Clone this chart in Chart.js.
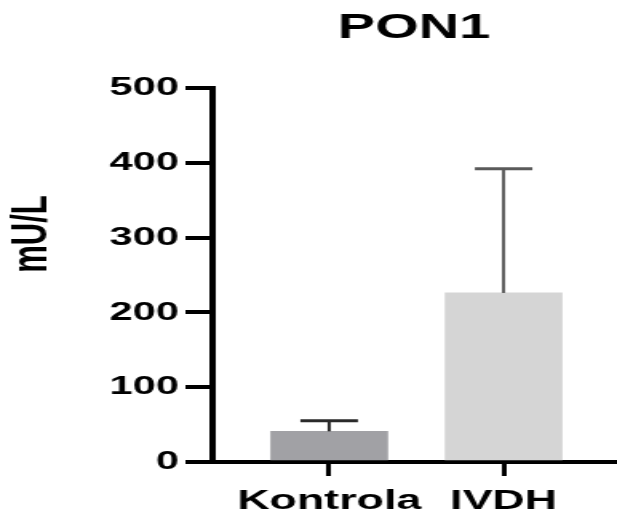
<!DOCTYPE html>
<html>
<head>
<meta charset="utf-8">
<script src="https://cdn.jsdelivr.net/npm/chart.js@4"></script>
<style>
    html, body { margin: 0; padding: 0; background: #fff; overflow: hidden; }
    #wrap {
        width: 386px;
        height: 517px;
        transform: scaleX(1.5984);
        transform-origin: 0 0;
    }
</style>
</head>
<body>
<div id="wrap"><canvas id="chartPon"></canvas></div>
<script>
// =====================================
// DATA
// =====================================

const categories = ["Kontrola", "IVDH"];
const means = [41, 226];
const sdUpper = [14, 166];
const barColors = ["#a1a1a5", "#d5d5d5"];
const errColors = ["#2a2a2a", "#5a5a5a"];
const yTicks = [0, 100, 200, 300, 400, 500];

const FONT = "'Liberation Sans', Arial, sans-serif";

// =====================================
// PLUGINS
// =====================================

const errorBars = {
    id: "errorBars",
    afterDatasetsDraw(chart) {
        const ctx = chart.ctx;
        const y = chart.scales.y;
        const meta = chart.getDatasetMeta(0);

        meta.data.forEach((bar, i) => {
            const top = y.getPixelForValue(means[i] + sdUpper[i]);
            ctx.save();
            ctx.strokeStyle = errColors[i];
            ctx.lineWidth = 2;
            ctx.beginPath();
            ctx.moveTo(bar.x, bar.y);
            ctx.lineTo(bar.x, top);
            ctx.stroke();
            ctx.lineWidth = 3;
            ctx.beginPath();
            ctx.moveTo(bar.x - 18, top);
            ctx.lineTo(bar.x + 18, top);
            ctx.stroke();
            ctx.restore();
        });
    }
};

const texts = {
    id: "texts",
    afterDraw(chart) {
        const ctx = chart.ctx;
        ctx.save();
        ctx.fillStyle = "#000";
        ctx.textAlign = "center";
        ctx.textBaseline = "middle";

        // title
        ctx.font = `bold 35px ${FONT}`;
        ctx.fillText("PON1", 259, 28);

        // y axis label
        ctx.translate(20, 234);
        ctx.rotate(-Math.PI / 2);
        ctx.font = `bold 31px ${FONT}`;
        ctx.fillText("mU/L", 0, 0);
        ctx.restore();
    }
};

// =====================================
// CHART
// =====================================

new Chart(document.getElementById("chartPon"), {
    type: "bar",
    data: {
        datasets: [{
            data: categories.map((c, i) => ({ x: i + 1, y: means[i] })),
            backgroundColor: barColors,
            borderWidth: 0,
            barThickness: 73
        }]
    },
    options: {
        responsive: true,
        maintainAspectRatio: false,
        animation: false,
        layout: {
            padding: { top: 88, right: 1, left: 0, bottom: 0 }
        },
        plugins: {
            legend: { display: false },
            tooltip: { enabled: false },
            title: { display: false }
        },
        scales: {
            x: {
                type: "linear",
                offset: false,
                min: 0.3315,
                max: 2.641,
                afterBuildTicks: (scale) => {
                    scale.ticks = categories.map((c, i) => ({ value: i + 1 }));
                },
                afterFit: (scale) => { scale.height = 55; },
                border: { color: "#000", width: 4 },
                grid: {
                    offset: false,
                    drawOnChartArea: false,
                    drawTicks: true,
                    tickLength: 14,
                    color: "#000",
                    lineWidth: 3
                },
                ticks: {
                    autoSkip: false,
                    maxRotation: 0,
                    padding: 8,
                    color: "#000",
                    font: { family: FONT, size: 28, weight: "bold" },
                    callback: (value, index) => categories[index]
                }
            },
            y: {
                min: 0,
                max: 500,
                afterBuildTicks: (scale) => {
                    scale.ticks = yTicks.map(v => ({ value: v }));
                },
                afterFit: (scale) => { scale.width = 133; },
                border: { color: "#000", width: 4 },
                grid: {
                    drawOnChartArea: false,
                    drawTicks: true,
                    tickLength: 17,
                    color: "#000",
                    lineWidth: 4
                },
                ticks: {
                    padding: 4,
                    color: "#000",
                    font: { family: FONT, size: 26, weight: "bold" }
                }
            }
        }
    },
    plugins: [errorBars, texts]
});
</script>
</body>
</html>
